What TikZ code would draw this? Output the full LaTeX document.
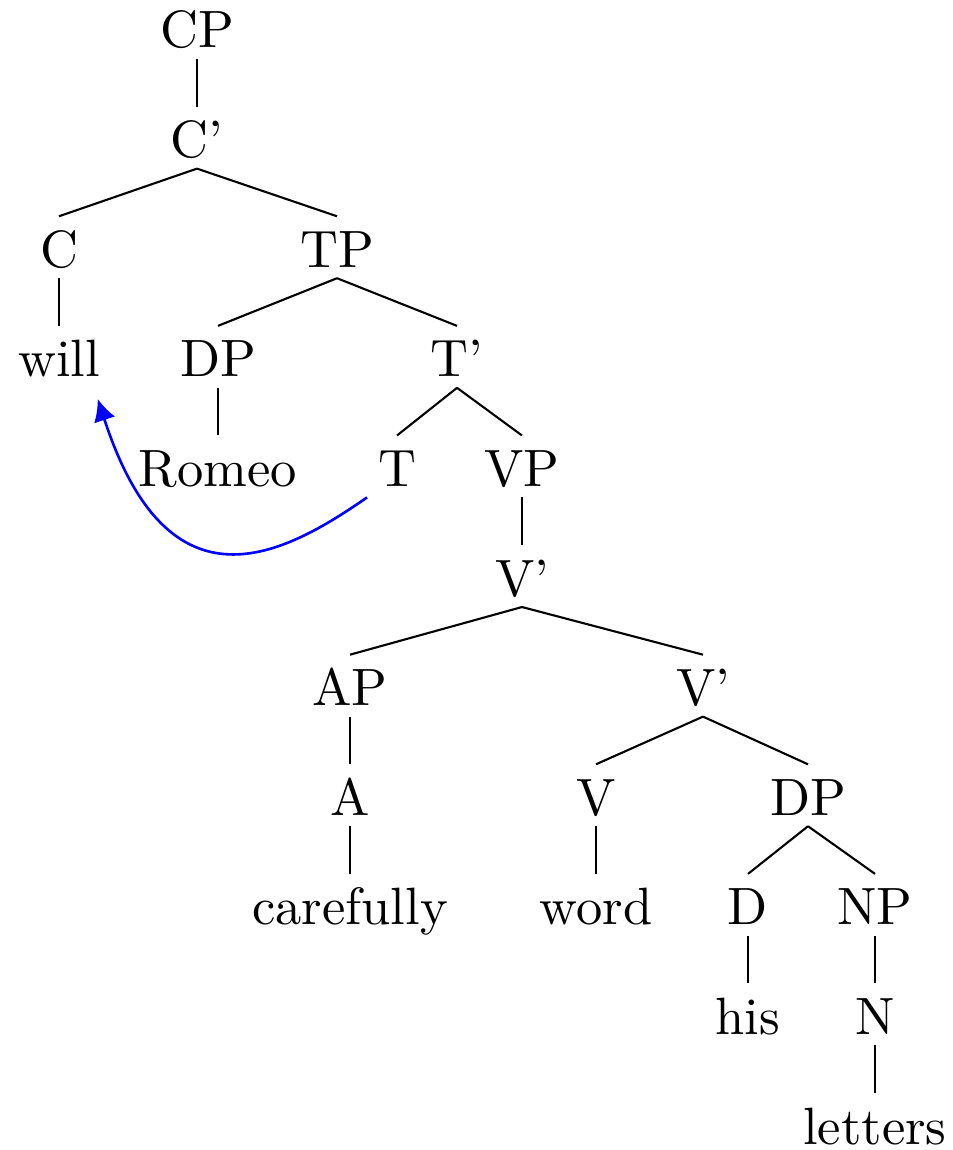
\documentclass[tikz,border=0pt]{standalone}
\usetikzlibrary{arrows.meta}
\begin{document}
\begin{tikzpicture}[x=0.1905pt,y=-0.1905pt,
  lab/.style={anchor=base,text height=7.6pt,text depth=0pt,inner xsep=1.9pt,inner ysep=1.9pt},
  edge/.style={line width=0.4pt},
  arr/.style={blue,line width=0.5pt,-{Latex[length=4.2pt,width=4.2pt]}}]
\useasboundingbox (0,0) rectangle (953,1150);
% level 0-1
\node[lab] (CP) at (197,48) {CP};
\node[lab] (Cb) at (197,157.6) {C'};
% level 2
\node[lab] (C) at (59,267.2) {C};
\node[lab] (TP) at (337,267.2) {TP};
% level 3
\node[lab] (will) at (59,376.8) {will};
\node[lab] (DP1) at (218,376.8) {DP};
\node[lab] (Tb) at (457,376.8) {T'};
% level 4
\node[lab] (Romeo) at (218,486.4) {Romeo};
\node[lab] (T) at (397,486.4) {T};
\node[lab] (VP) at (522,486.4) {VP};
% level 5
\node[lab] (Vb1) at (522,596) {V'};
% level 6
\node[lab] (AP) at (350,705.6) {AP};
\node[lab] (Vb2) at (703,705.6) {V'};
% level 7
\node[lab] (A) at (350,815.2) {A};
\node[lab] (V) at (596,815.2) {V};
\node[lab] (DP2) at (808,815.2) {DP};
% level 8
\node[lab] (carefully) at (350,924.8) {carefully};
\node[lab] (word) at (596,924.8) {word};
\node[lab] (D) at (748,924.8) {D};
\node[lab] (NP) at (875,924.8) {NP};
% level 9
\node[lab] (his) at (748,1034.4) {his};
\node[lab] (N) at (875,1034.4) {N};
% level 10
\node[lab] (letters) at (875,1144) {letters};
% edges
\draw[edge] (CP.south) -- (Cb.north);
\draw[edge] (Cb.south) -- (C.north);
\draw[edge] (Cb.south) -- (TP.north);
\draw[edge] (C.south) -- (will.north);
\draw[edge] (TP.south) -- (DP1.north);
\draw[edge] (TP.south) -- (Tb.north);
\draw[edge] (DP1.south) -- (Romeo.north);
\draw[edge] (Tb.south) -- (T.north);
\draw[edge] (Tb.south) -- (VP.north);
\draw[edge] (VP.south) -- (Vb1.north);
\draw[edge] (Vb1.south) -- (AP.north);
\draw[edge] (Vb1.south) -- (Vb2.north);
\draw[edge] (AP.south) -- (A.north);
\draw[edge] (A.south) -- (carefully.north);
\draw[edge] (Vb2.south) -- (V.north);
\draw[edge] (Vb2.south) -- (DP2.north);
\draw[edge] (V.south) -- (word.north);
\draw[edge] (DP2.south) -- (D.north);
\draw[edge] (DP2.south) -- (NP.north);
\draw[edge] (D.south) -- (his.north);
\draw[edge] (NP.south) -- (N.north);
\draw[edge] (N.south) -- (letters.north);
% movement arrow
\draw[arr] (T.south west) .. controls (284,555) and (169,618) .. ([xshift=-2.5pt,yshift=-2.1pt]will.south east);
\end{tikzpicture}
\end{document}
